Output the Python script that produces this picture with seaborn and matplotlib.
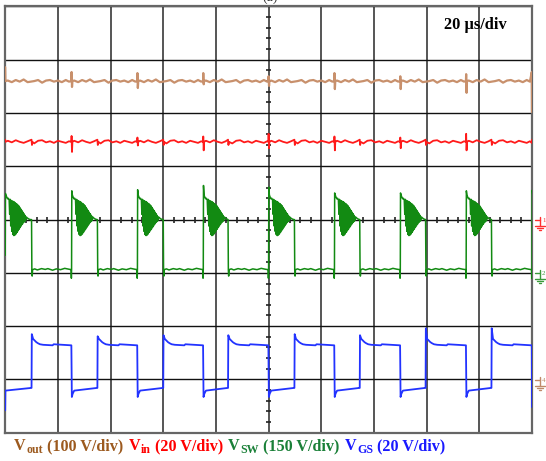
import numpy as np
import pandas as pd
import matplotlib
matplotlib.use("Agg")
import matplotlib.pyplot as plt
import seaborn as sns
from matplotlib.lines import Line2D

# ---------------- data (scope divisions: x 0..10, y -4..4) ----------------
sw_rise = [0.0, 1.26, 2.51, 3.76, 5.0, 6.25, 7.5, 8.75, 10.0]
sw_fall = [0.50, 1.75, 3.00, 4.23, 5.49, 6.73, 7.98, 9.23]
sw_peak = [0.49, 0.54, 0.56, 0.64, 0.61, 0.50, 0.50, 0.54, 0.55]
sw_low = -0.94
sw_start = -0.67
sw_ring_dt = [0.015, 0.03, 0.045, 0.06, 0.075, 0.085, 0.095, 0.105, 0.115, 0.125,
              0.135, 0.145, 0.155, 0.165, 0.175, 0.185, 0.195, 0.205, 0.215, 0.225,
              0.235, 0.245, 0.255, 0.265, 0.275, 0.285, 0.295, 0.305, 0.315, 0.325,
              0.335, 0.345, 0.355, 0.365, 0.375, 0.385, 0.40, 0.42, 0.45, 0.48]
sw_ring_v = [0.46, 0.42, 0.39, 0.40, 0.37, 0.10, 0.38, -0.12, 0.36, -0.22,
             0.35, -0.28, 0.34, -0.30, 0.33, -0.29, 0.31, -0.27, 0.30, -0.24,
             0.28, -0.21, 0.26, -0.18, 0.23, -0.15, 0.20, -0.12, 0.17, -0.09,
             0.14, -0.06, 0.11, -0.04, 0.08, -0.02, 0.05, 0.03, 0.01, 0.0]
sw_low_ripple_dt = [0.06, 0.11, 0.19, 0.26, 0.31, 0.40, 0.47, 0.55, 0.63, 0.70]
sw_low_ripple = [0.015, -0.005, 0.02, 0.005, 0.02, -0.01, 0.015, 0.0, 0.025, 0.01]

gs_peak = [-2.15, -2.19, -2.17, -2.17, -2.15, -2.17, -2.04, -2.04]
gs_high = -2.36
gs_low = -3.21
gs_pre_rise = -3.16
gs_under = -3.33
gs_start = -3.58
gs_end = -3.52
gs_settle_dt = [0.03, 0.06, 0.09, 0.12, 0.16, 0.22, 0.40, 0.42]
gs_settle_v = [-2.24, -2.27, -2.30, -2.32, -2.34, -2.35, -2.36, -2.34]

vout_level = 2.60
vout_spike_up = [0.17, 0.15, 0.15, 0.09, 0.15, 0.09, 0.13]
vout_spike_dn = [-0.11, -0.13, -0.06, -0.09, -0.15, -0.15, -0.22]
vout_edges = [2.86, 2.77, 2.02]

vin_level = 1.46
vin_spike_up = [0.11, 0.08, 0.10, 0.15, 0.10, 0.08, 0.15]
vin_spike_dn = [-0.19, -0.07, -0.16, -0.12, -0.16, -0.12, -0.16]
vin_fall_blip = [0.04, -0.06]

ripple_dt = [0.05, 0.125, 0.20, 0.275, 0.35, 0.425, 0.55, 0.625, 0.70, 0.775,
             0.85, 0.925, 1.00, 1.075, 1.15, 1.21]
vin_ripple = [0.02, -0.01, 0.03, 0.0, -0.02, 0.01, -0.03, 0.02,
              0.03, -0.01, 0.01, -0.02, 0.02, 0.0, -0.02, 0.01]
vout_ripple = [0.01, -0.02, 0.02, -0.01, 0.03, -0.02, 0.0, 0.02,
               -0.03, 0.01, 0.02, -0.01, 0.01, -0.02, 0.02, -0.01]

legend_parts = [("V", "out", " (100 V/div)", "#9c5a1f"),
                ("V", "in", " (20 V/div)", "#ff0000"),
                ("V", "SW", " (150 V/div)", "#1a8038"),
                ("V", "GS", " (20 V/div)", "#1a1aff")]
timebase_label = "20 µs/div"

# ---------------- build traces from the read values ----------------
def build_sw():
    t, v = [0.0], [sw_start]
    for i, r in enumerate(sw_rise):
        if i > 0:
            t += [r - 0.008, r - 0.004, r]
            v += [sw_low, -1.10, sw_low]
        t.append(r + 0.004); v.append(sw_peak[i])
        f = sw_fall[i] if i < len(sw_fall) else 10.5
        for dt, val in zip(sw_ring_dt, sw_ring_v):
            if r + dt < f - 0.005:
                t.append(r + dt); v.append(val)
        if i < len(sw_fall):
            t += [f, f + 0.006, f + 0.012, f + 0.02]
            v += [0.0, sw_low, -1.06, sw_low]
            nr = sw_rise[i + 1]
            for dt, val in zip(sw_low_ripple_dt, sw_low_ripple):
                if f + dt < nr - 0.02:
                    t.append(f + dt); v.append(sw_low + val)
    return pd.DataFrame({"t": t, "v": v})

def build_gs():
    t, v = [0.0, 0.004], [gs_start, gs_low]
    for i, f in enumerate(sw_fall):
        t += [f - 0.01, f, f + 0.005]
        v += [gs_pre_rise, gs_pre_rise, gs_peak[i]]
        for dt, val in zip(gs_settle_dt, gs_settle_v):
            t.append(f + dt); v.append(val)
        r = sw_rise[i + 1]
        if r < 9.99:
            t += [r - 0.004, r + 0.005, r + 0.02, r + 0.05]
            v += [gs_high, gs_under, -3.27, gs_low]
        else:
            t += [r - 0.004, r]
            v += [gs_high, gs_end]
    return pd.DataFrame({"t": t, "v": v})

def build_rail(level, up, dn, ripple, start_end, fall_blip=None):
    pts = {}
    for i, r in enumerate(sw_rise[:-1]):
        for dt, val in zip(ripple_dt, ripple):
            pts[round(r + dt, 4)] = level + val
        if i > 0:
            pts[r - 0.004] = level
            pts[r] = level + up[i - 1]
            pts[r + 0.008] = level + dn[i - 1]
            pts[r + 0.016] = level
    if fall_blip is not None:
        for f in sw_fall:
            pts[f] = level + fall_blip[0]
            pts[f + 0.008] = level + fall_blip[1]
            pts[f + 0.016] = level
    pts[0.0] = start_end[0]
    pts[0.004] = level
    pts[9.996] = start_end[1]
    pts[10.0] = start_end[2]
    ts = sorted(k for k in pts if k <= 10.0)
    return pd.DataFrame({"t": ts, "v": [pts[k] for k in ts]})

df_sw = build_sw()
df_gs = build_gs()
df_out = build_rail(vout_level, vout_spike_up, vout_spike_dn, vout_ripple, vout_edges)
df_in = build_rail(vin_level, vin_spike_up, vin_spike_dn, vin_ripple,
                   [1.50, 1.44, 1.50], vin_fall_blip)

# ---------------- figure ----------------
sns.set_style("white")
plt.rcParams["font.family"] = ["Liberation Serif", "DejaVu Serif"]

W, H = 546, 461
fig = plt.figure(figsize=(W / 100, H / 100), dpi=100)
ax = fig.add_axes([5.2 / W, 1 - 432.7 / H, (532 - 5.2) / W, (432.7 - 6.5) / H])
ax.set_xlim(0, 10)
ax.set_ylim(-4, 4)
ax.set_xticks(range(11))
ax.set_yticks(range(-4, 5))
ax.tick_params(length=0, labelbottom=False, labelleft=False)
ax.set_axisbelow(True)
ax.xaxis.grid(True, color="#555555", lw=1.4)
ax.yaxis.grid(True, color="#111111", lw=1.0)
for s in ax.spines.values():
    s.set_color("#666666")
    s.set_linewidth(1.6)

minor = [k / 5 for k in range(-20, 21) if k % 5]
ax.hlines(minor, 4.955, 5.045, color="#222222", lw=1.2, zorder=1.5)
minor_x = [k / 5 for k in range(0, 51) if k % 5]
ax.vlines(minor_x, -0.058, 0.058, color="#222222", lw=1.2, zorder=1.5)

for df, col, lw in [(df_out, "#c8906c", 1.6), (df_in, "#ff1a1a", 1.3),
                    (df_sw, "#128a12", 1.1), (df_gs, "#2233ff", 1.3)]:
    sns.lineplot(data=df, x="t", y="v", ax=ax, estimator=None, sort=False,
                 color=col, lw=lw, zorder=3)
ax.set_xlabel("")
ax.set_ylabel("")

# timebase label
fig.text(444 / W, 1 - 29.3 / H, timebase_label, fontsize=11.8, fontweight="bold",
         color="black", va="baseline", ha="left")
# clipped panel label at the very top (as in the reference)
fig.text(270 / W, 1 - 1.0 / H, "(a)", fontsize=10, color="#333333",
         va="baseline", ha="center")

# legend line with subscripts
fig.canvas.draw()
rend = fig.canvas.get_renderer()
x = 14.0
base = H - 450.0
for main, sub, rest, col in legend_parts:
    for txt, size, dy, gap in [(main, 11.6, 0, 0.5), (sub, 8.6, -3.0, 0.5),
                               (rest, 11.6, 0, 5.0)]:
        tt = fig.text(x / W, (base + dy) / H, txt, fontsize=size, fontweight="bold",
                      color=col, va="baseline", ha="left")
        x += tt.get_window_extent(rend).width + gap

# ground markers at right edge
def gnd(y, col, num):
    def L(xs, ys, lw=1.0):
        fig.add_artist(Line2D([a / W for a in xs], [1 - b / H for b in ys],
                              color=col, lw=lw, transform=fig.transFigure))
    L([535, 540], [y, y])
    L([540, 540], [y - 3, y + 6])
    L([535, 545], [y + 6, y + 6])
    L([537, 543], [y + 8, y + 8])
    L([539, 541], [y + 10, y + 10])
    fig.text(542 / W, 1 - (y + 2) / H, num, fontsize=5, color=col, ha="left", va="baseline")

gnd(220, "#ff3030", "1")
gnd(273, "#3a9a3a", "2")
gnd(380, "#c08a6a", "4")

fig.savefig("out.png", dpi=100)
